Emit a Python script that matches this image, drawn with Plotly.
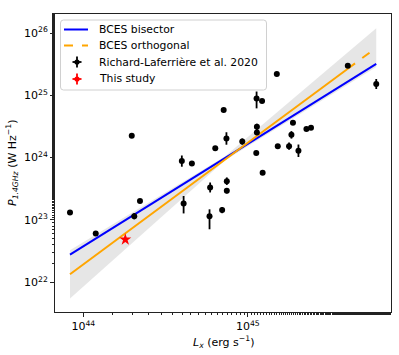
import numpy as np
import plotly.graph_objects as go

# Richard-Laferriere et al. 2020 sample
lx = [8.30e43, 1.19e44, 2.04e44, 2.21e44, 1.97e44, 4.07e44, 5.85e44, 6.98e44,
      3.97e44, 4.57e44, 5.90e44, 7.45e44, 7.45e44, 6.34e44, 7.41e44, 7.13e44,
      9.25e44, 1.125e45, 1.135e45, 1.135e45, 1.23e45, 1.13e45, 1.22e45, 1.50e45,
      1.52e45, 1.78e45, 1.84e45, 1.88e45, 2.03e45, 2.27e45, 2.42e45, 4.05e45,
      6.03e45]
p14 = [1.32e23, 6.05e22, 1.15e23, 2.02e23, 2.24e24, 1.84e23, 1.15e23, 1.44e23,
       8.80e23, 8.07e23, 3.32e23, 4.19e23, 2.93e23, 1.41e24, 2.03e24, 5.80e24,
       1.81e24, 1.19e24, 3.13e24, 2.54e24, 5.70e23, 8.93e24, 8.09e24, 2.19e25,
       1.53e24, 1.53e24, 2.32e24, 3.62e24, 1.29e24, 2.87e24, 3.03e24, 2.97e25,
       1.52e25]
# errors in dex (up / down)
err_up = [0.02, 0.03, 0.05, 0.02, 0.0, 0.12, 0.11, 0.05,
          0.09, 0.0, 0.08, 0.06, 0.04, 0.0, 0.10, 0.0,
          0.05, 0.0, 0.05, 0.0, 0.0, 0.11, 0.0, 0.0,
          0.0, 0.06, 0.06, 0.03, 0.10, 0.0, 0.0, 0.0,
          0.08]
err_dn = [0.02, 0.03, 0.05, 0.02, 0.0, 0.16, 0.21, 0.05,
          0.09, 0.0, 0.08, 0.06, 0.04, 0.0, 0.10, 0.0,
          0.05, 0.0, 0.05, 0.0, 0.0, 0.16, 0.0, 0.0,
          0.0, 0.06, 0.06, 0.03, 0.10, 0.0, 0.0, 0.0,
          0.08]

# this study
star_lx = [1.80e44]
star_p = [4.85e22]

# BCES fits: log P = norm + slope * (log Lx - 45)
bis_slope, bis_norm = 1.644, 24.222
orth_slope, orth_norm = 1.953, 24.240
orth_solid_end = 4.05e45

# confidence band
band_x = [8.30e43, 7.28e44, 6.03e45]
band_hi = [3.27e22, 1.05e24, 1.19e26]
band_lo = [5.47e21, 9.1e23, 2.84e25]

legend_labels = ["BCES bisector", "BCES orthogonal",
                 "Richard-Laferrière et al. 2020", "This study"]

FONT = "DejaVu Sans"
W, H = 399, 355
ML, MR, MT, MB = 55, 8, 14, 43
PW, PH = W - ML - MR, H - MT - MB

lx_arr = np.array(lx)
p_arr = np.array(p14)
e_plus = p_arr * (10 ** np.array(err_up) - 1)
e_minus = p_arr * (1 - 10 ** -np.array(err_dn))

x_fit = np.array([lx_arr.min(), lx_arr.max()])


def fit_line(xs, slope, norm):
    return 10 ** (norm + slope * (np.log10(xs) - 45))


def px(x):
    return (x - ML) / PW


def py(y):
    return (H - MB - y) / PH


fig = go.Figure()

fig.add_trace(go.Scatter(
    x=band_x + band_x[::-1], y=band_hi + band_lo[::-1],
    fill="toself", fillcolor="rgba(200,200,200,0.45)",
    line=dict(width=0), mode="lines", showlegend=False, hoverinfo="skip",
))

fig.add_trace(go.Scatter(
    x=x_fit, y=fit_line(x_fit, bis_slope, bis_norm), mode="lines",
    line=dict(color="blue", width=2), showlegend=False,
))
x_solid = np.array([lx_arr.min(), orth_solid_end])
x_dash = np.array([orth_solid_end, lx_arr.max()])
fig.add_trace(go.Scatter(
    x=x_solid, y=fit_line(x_solid, orth_slope, orth_norm), mode="lines",
    line=dict(color="orange", width=2), showlegend=False,
))
fig.add_trace(go.Scatter(
    x=x_dash, y=fit_line(x_dash, orth_slope, orth_norm), mode="lines",
    line=dict(color="orange", width=2, dash="dash"), showlegend=False,
))

fig.add_trace(go.Scatter(
    x=lx, y=p14, mode="markers",
    marker=dict(color="black", size=6),
    error_y=dict(type="data", symmetric=False, array=e_plus, arrayminus=e_minus,
                 color="black", thickness=1.8, width=0),
    showlegend=False,
))
fig.add_trace(go.Scatter(
    x=star_lx, y=star_p, mode="markers",
    marker=dict(color="red", size=9, symbol="star"),
    showlegend=False,
))

# hand-made legend (matplotlib-like spacing)
box_l, box_r, box_t, box_b, rad = 60.5, 266.5, 20, 90, 3
shapes = [dict(
    type="path", xref="paper", yref="paper", layer="above",
    path=(f"M {px(box_l + rad)},{py(box_t)} L {px(box_r - rad)},{py(box_t)} "
          f"Q {px(box_r)},{py(box_t)} {px(box_r)},{py(box_t + rad)} "
          f"L {px(box_r)},{py(box_b - rad)} "
          f"Q {px(box_r)},{py(box_b)} {px(box_r - rad)},{py(box_b)} "
          f"L {px(box_l + rad)},{py(box_b)} "
          f"Q {px(box_l)},{py(box_b)} {px(box_l)},{py(box_b - rad)} "
          f"L {px(box_l)},{py(box_t + rad)} "
          f"Q {px(box_l)},{py(box_t)} {px(box_l + rad)},{py(box_t)} Z"),
    fillcolor="rgba(255,255,255,0.8)", line=dict(color="#d0d0d0", width=1),
)]
rows = [29.5, 45.5, 62, 79]
h0, h1, hc = 64, 88, 77
shapes.append(dict(type="line", xref="paper", yref="paper", layer="above",
                   x0=px(h0), x1=px(h1), y0=py(rows[0]), y1=py(rows[0]),
                   line=dict(color="blue", width=2)))
shapes.append(dict(type="line", xref="paper", yref="paper", layer="above",
                   x0=px(h0), x1=px(h1), y0=py(rows[1]), y1=py(rows[1]),
                   line=dict(color="orange", width=2, dash="dash")))
for row, col in [(rows[2], "black"), (rows[3], "red")]:
    shapes.append(dict(type="line", xref="paper", yref="paper", layer="above",
                       x0=px(hc - 4.5), x1=px(hc + 4.5), y0=py(row), y1=py(row),
                       line=dict(color=col, width=1.8)))
    shapes.append(dict(type="line", xref="paper", yref="paper", layer="above",
                       x0=px(hc), x1=px(hc), y0=py(row - 5.5), y1=py(row + 5.5),
                       line=dict(color=col, width=1.8)))
    shapes.append(dict(type="circle", xref="paper", yref="paper", layer="above",
                       x0=px(hc - 2.6), x1=px(hc + 2.6),
                       y0=py(row - 2.6), y1=py(row + 2.6),
                       fillcolor=col, line=dict(color=col, width=0)))

annotations = [
    dict(text=lab, xref="paper", yref="paper", x=px(96.5), y=py(row),
         xanchor="left", yanchor="middle", showarrow=False,
         font=dict(family=FONT, size=10.8, color="black"))
    for lab, row in zip(legend_labels, rows)
]
annotations += [
    dict(text="<i>L<sub>x</sub></i> (erg s<sup>−1</sup>)",
         xref="paper", yref="paper", x=0.5, y=0, yshift=-30,
         xanchor="center", yanchor="middle", showarrow=False,
         font=dict(family=FONT, size=11)),
    dict(text="<i>P</i><sub><i>1.4GHz</i></sub> (W Hz<sup>−1</sup>)",
         xref="paper", yref="paper", x=0, y=0.5, xshift=-43,
         xanchor="center", yanchor="middle", textangle=-90,
         showarrow=False, font=dict(family=FONT, size=11)),
]

axis_common = dict(
    type="log", showgrid=False, zeroline=False, automargin=False,
    showline=True, linecolor="#222", linewidth=1, mirror=True,
    ticks="outside", ticklen=4, tickcolor="#222",
    tickfont=dict(family=FONT, size=11, color="black"),
    minor=dict(ticks="outside", ticklen=2, tickcolor="#222", showgrid=False),
)

fig.update_layout(
    width=W, height=H,
    margin=dict(l=ML, r=MR, t=MT, b=MB),
    paper_bgcolor="white", plot_bgcolor="white",
    font=dict(family=FONT, size=10, color="black"),
    showlegend=False,
    xaxis=dict(
        axis_common, range=[43.828, 45.870],
        tickvals=[1e44, 1e45], ticktext=["10<sup>44</sup>", "10<sup>45</sup>"],
    ),
    yaxis=dict(
        axis_common, range=[21.523, 26.305],
        tickvals=[1e22, 1e23, 1e24, 1e25, 1e26],
        ticktext=["10<sup>22</sup>", "10<sup>23</sup>", "10<sup>24</sup>",
                  "10<sup>25</sup>", "10<sup>26</sup>"],
    ),
    shapes=shapes,
    annotations=annotations,
)

# page has a default body margin; remove it so the figure fills the window
fig.write_html(
    "out.html",
    config={"displayModeBar": False},
    post_script="document.body.style.margin='0';document.body.style.overflow='hidden';",
)
